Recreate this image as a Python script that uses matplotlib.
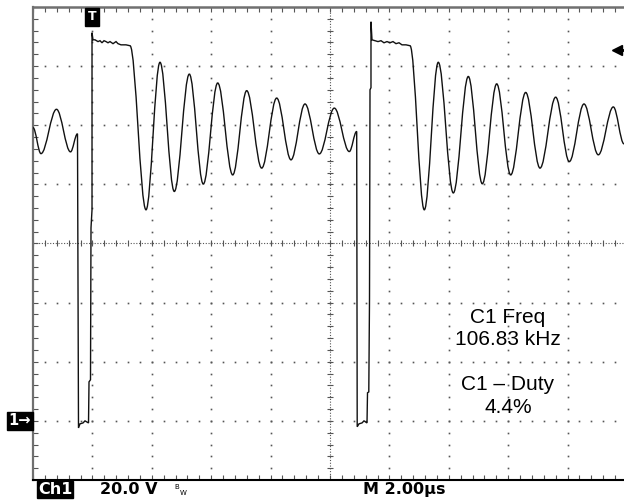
import matplotlib.pyplot as plt
import numpy as np
from matplotlib.path import Path
from matplotlib.patches import PathPatch

# scope settings
us_per_div = 2.0
volts_per_div = 20.0
t_min, t_max = 0.0, 20.0
v_min, v_max = -20.0, 140.0
trig_t = 1.987
trig_level = 125.5

# trace: time in us, level in V (ground = 0 V)
# ringing segments are given by their turning points
ring0_t = [0.000, 0.269, 0.791, 1.263, 1.498]
ring0_v = [99.2, 90.4, 105.4, 91.0, 97.1]

pulse1_t = [1.532, 1.582, 1.684, 1.751, 1.869, 1.886, 1.936, 1.953, 1.987, 1.987,
            2.020, 2.088, 2.189, 2.256, 2.323, 2.391, 2.458, 2.525, 2.593, 2.694,
            2.795, 2.862, 2.963, 3.131, 3.266]
pulse1_v = [-2.4, -1.0, -0.7, 0.0, -0.7, 13.2, 13.9, 65.3, 71.4, 131.3,
            128.9, 128.9, 128.3, 128.6, 127.9, 128.6, 128.3, 127.9, 128.3, 127.6,
            128.3, 127.6, 127.2, 127.2, 126.9]

ring1_t = [3.805, 4.276, 4.758, 5.263, 5.734, 6.219, 6.724, 7.195, 7.700, 8.205,
           8.687, 9.158, 9.640, 10.145, 10.650, 10.899]
ring1_v = [71.4, 121.3, 77.6, 117.3, 80.1, 114.3, 83.2, 111.7, 85.5, 109.2,
           88.3, 107.2, 90.3, 105.8, 91.1, 97.9]

pulse2_t = [10.916, 10.976, 11.077, 11.145, 11.246, 11.263, 11.306, 11.330, 11.347, 11.380,
            11.380, 11.414, 11.515, 11.616, 11.717, 11.818, 11.919, 12.020, 12.121, 12.222,
            12.323, 12.424, 12.559, 12.694]
pulse2_v = [-2.0, -1.0, -0.7, 0.0, -0.7, 9.5, 9.8, 40.9, 112.0, 112.7,
            135.0, 128.9, 128.6, 128.3, 128.6, 127.9, 128.3, 127.9, 128.3, 127.6,
            127.9, 127.2, 127.2, 126.9]

ring2_t = [13.175, 13.646, 14.152, 14.657, 15.128, 15.613, 16.084, 16.589, 17.071, 17.599,
           18.057, 18.552, 19.034, 19.539, 19.899]
ring2_v = [71.4, 121.3, 77.1, 116.5, 80.2, 114.0, 83.2, 111.1, 85.5, 109.5,
           87.7, 107.2, 90.0, 106.2, 93.7]

meas_lines = ["C1 Freq", "106.83 kHz", "C1 \u2013 Duty", "4.4%"]
meas_baselines = [323, 345, 390, 413]


def add_line(verts, codes, ts, vs):
    for t, v in zip(ts, vs):
        verts.append((t, v))
        codes.append(Path.LINETO)


def add_ring(verts, codes, ts, vs, k=0.36):
    # smooth half-waves between turning points
    for t, v in zip(ts, vs):
        t0, v0 = verts[-1]
        dt = t - t0
        verts += [(t0 + k * dt, v0), (t - k * dt, v), (t, v)]
        codes += [Path.CURVE4] * 3


fig = plt.figure(figsize=(6.24, 5), dpi=100)
ax = fig.add_axes([33 / 624, 20 / 500, 594 / 624, 473 / 500])
ax.set_xlim(t_min, t_max)
ax.set_ylim(v_min, v_max)

minor_t = np.arange(t_min, t_max + 1e-6, us_per_div / 5)
minor_v = np.arange(v_min, v_max + 1e-6, volts_per_div / 5)
center_t = (t_min + t_max) / 2
center_v = (v_min + v_max) / 2
dot = dict(ls='none', marker='s', ms=1.2, mew=0, color='#555555')

# dotted graticule
for i in range(1, 8):
    v = v_min + i * volts_per_div
    if i == 4:
        continue
    ax.plot(minor_t[1:-1], np.full(len(minor_t) - 2, v), **dot)
for i in range(1, 10):
    t = t_min + i * us_per_div
    if i == 5:
        continue
    ax.plot(np.full(len(minor_v) - 2, t), minor_v[1:-1], **dot)

# centre cross with small ticks
ax.axhline(center_v, ls=(0, (1, 1.5)), lw=0.8, color='#555555')
ax.axvline(center_t, ls=(0, (1, 1.5)), lw=0.8, color='#555555')
ax.plot(minor_t, np.full(len(minor_t), center_v), ls='none', marker='|', ms=4, mew=0.8, color='#555555')
ax.plot(np.full(len(minor_v), center_t), minor_v, ls='none', marker='_', ms=4, mew=0.8, color='#555555')

# border ticks
ax.set_xticks(np.arange(t_min, t_max + 1e-6, us_per_div))
ax.set_xticks(minor_t, minor=True)
ax.set_yticks(np.arange(v_min, v_max + 1e-6, volts_per_div))
ax.set_yticks(minor_v, minor=True)
ax.tick_params(which='both', direction='in', length=3.5, width=0.8, color='#555555',
               top=True, bottom=True, left=True, right=False,
               labelbottom=False, labelleft=False)
ax.spines['right'].set_visible(False)
ax.spines['left'].set_color('#707070')
ax.spines['left'].set_linewidth(1.6)
ax.spines['top'].set_color('#707070')
ax.spines['top'].set_linewidth(1.8)
ax.spines['bottom'].set_color('black')
ax.spines['bottom'].set_linewidth(1.5)

# trace
verts = [(ring0_t[0], ring0_v[0])]
codes = [Path.MOVETO]
add_ring(verts, codes, ring0_t[1:], ring0_v[1:])
add_line(verts, codes, pulse1_t, pulse1_v)
add_ring(verts, codes, ring1_t, ring1_v)
add_line(verts, codes, pulse2_t, pulse2_v)
add_ring(verts, codes, ring2_t, ring2_v)
ax.add_patch(PathPatch(Path(verts, codes), fill=False, ec='#111111', lw=1.0, zorder=3))

# trigger position, ground and trigger level markers
ax.text(trig_t, 0.979, 'T', transform=ax.get_xaxis_transform(), ha='center', va='center',
        color='white', fontsize=9, fontweight='bold', zorder=5,
        bbox=dict(boxstyle='square,pad=0.18', fc='black', ec='black'))
ax.text(-0.003, 0, '1\u2192', transform=ax.get_yaxis_transform(), ha='right', va='center',
        color='white', fontsize=10.5, fontweight='bold', clip_on=False,
        bbox=dict(boxstyle='square,pad=0.1', fc='black', ec='black'))
ax.plot([0.987, 1.0], [trig_level, trig_level], transform=ax.get_yaxis_transform(),
        color='black', lw=2, clip_on=False, zorder=5)
ax.plot([0.983], [trig_level], transform=ax.get_yaxis_transform(), marker='<', ms=7,
        color='black', clip_on=False, zorder=5)

# measurements
for line, base in zip(meas_lines, meas_baselines):
    fig.text(508 / 624, 1 - base / 500, line, ha='center', va='baseline',
             fontsize=15, family='Liberation Sans')

# status line
fig.text(55 / 624, 1 - 494 / 500, 'Ch1', ha='center', va='baseline', color='white',
         fontsize=11.5, fontweight='bold',
         bbox=dict(boxstyle='square,pad=0.08', fc='black', ec='black'))
fig.text(100 / 624, 1 - 494 / 500, '%.1f V' % volts_per_div, ha='left', va='baseline',
         fontsize=11.5, fontweight='bold')
fig.text(174 / 624, 1 - 489 / 500, 'B', ha='left', va='baseline', fontsize=5)
fig.text(179.5 / 624, 1 - 495 / 500, 'W', ha='left', va='baseline', fontsize=5)
fig.text(363 / 624, 1 - 494 / 500, 'M %.2f\u00b5s' % us_per_div, ha='left', va='baseline',
         fontsize=11.5, fontweight='bold')

fig.savefig('out.png', dpi=100)
